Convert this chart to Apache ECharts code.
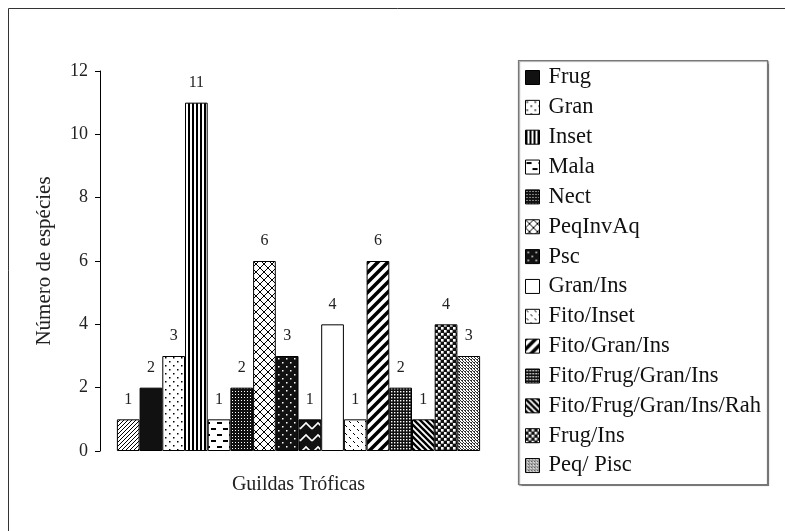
<!DOCTYPE html>
<html>
<head>
<meta charset="utf-8">
<script src="https://cdn.jsdelivr.net/npm/echarts@6/dist/echarts.min.js"></script>
<style>
  html, body { margin: 0; padding: 0; background: #fff; }
  #chart { width: 785px; height: 531px; }
</style>
</head>
<body>
<div id="chart"></div>
<script>
// Number of species per trophic guild
const categories = ['Guildas Tróficas'];
const guildNames = ['Série 1', 'Frug', 'Gran', 'Inset', 'Mala', 'Nect', 'PeqInvAq', 'Psc', 'Série 9',
  'Gran/Ins', 'Fito/Inset', 'Fito/Gran/Ins', 'Fito/Frug/Gran/Ins', 'Fito/Frug/Gran/Ins/Rah', 'Frug/Ins', 'Peq/ Pisc'];
const speciesCounts = [1, 2, 3, 11, 1, 2, 6, 3, 1, 4, 1, 6, 2, 1, 4, 3];
const legendNames = ['Frug', 'Gran', 'Inset', 'Mala', 'Nect', 'PeqInvAq', 'Psc', 'Gran/Ins', 'Fito/Inset',
  'Fito/Gran/Ins', 'Fito/Frug/Gran/Ins', 'Fito/Frug/Gran/Ins/Rah', 'Frug/Ins', 'Peq/ Pisc'];
const yTickMax = 12;
const yTickStep = 2;

// fill style for each bar, in series order
const fillKinds = ['hatchFine', 'solid', 'sparseDots', 'vStripes', 'dashes', 'denseDots', 'diamond', 'darkDots',
  'zigzag', 'blank', 'sparseSlash', 'thickDiag', 'denseDots2', 'backDiag', 'checker', 'mesh'];

const SERIF = 'Liberation Serif, "Times New Roman", serif';

function pattern(w, h, bg, draw) {
  const c = document.createElement('canvas');
  c.width = w; c.height = h;
  const g = c.getContext('2d');
  g.fillStyle = bg; g.fillRect(0, 0, w, h);
  g.fillStyle = '#000'; g.strokeStyle = '#000';
  draw(g, w, h);
  return { image: c, repeat: 'repeat' };
}
function line(g, pts, lw, col) {
  g.beginPath();
  g.lineWidth = lw;
  if (col) g.strokeStyle = col;
  g.moveTo(pts[0], pts[1]);
  for (let i = 2; i < pts.length; i += 2) g.lineTo(pts[i], pts[i + 1]);
  g.stroke();
}

function makeFill(kind) {
  switch (kind) {
    case 'solid': return '#111';
    case 'blank': return '#fff';
    case 'hatchFine': return pattern(4, 4, '#fff', g => {
      line(g, [-1, 5, 5, -1], 1); line(g, [-1, 1, 1, -1], 1); line(g, [3, 5, 5, 3], 1);
    });
    case 'sparseDots': return pattern(8, 8, '#fff', g => {
      g.fillRect(1, 1, 1.5, 1.5); g.fillRect(5, 5, 1.5, 1.5);
    });
    case 'vStripes': return pattern(4, 4, '#fff', g => { g.fillRect(0, 0, 2, 4); });
    case 'dashes': return pattern(12, 12, '#fff', g => {
      g.fillRect(1, 2, 5, 2); g.fillRect(7, 8, 5, 2);
    });
    case 'denseDots': return pattern(3, 3, '#111', g => {
      g.fillStyle = '#fff'; g.fillRect(1, 1, 1, 1);
    });
    case 'denseDots2': return pattern(3, 3, '#111', g => {
      g.fillStyle = '#fff'; g.fillRect(1, 1, 1.4, 1.4);
    });
    case 'diamond': return pattern(8, 8, '#fff', g => {
      line(g, [0, 0, 8, 8], 1); line(g, [0, 8, 8, 0], 1);
    });
    case 'darkDots': return pattern(8, 8, '#111', g => {
      g.fillStyle = '#fff'; g.fillRect(2, 2, 1.5, 1.5); g.fillRect(6, 6, 1.5, 1.5);
    });
    case 'zigzag': return pattern(12, 12, '#111', g => {
      line(g, [0, 9, 6, 3, 12, 9], 1.6, '#fff');
    });
    case 'sparseSlash': return pattern(8, 8, '#fff', g => {
      line(g, [1, 1, 3, 3], 1); line(g, [5, 5, 7, 7], 1);
    });
    case 'thickDiag': return pattern(10, 10, '#fff', g => {
      line(g, [-2, 12, 12, -2], 3.5); line(g, [-2, 2, 2, -2], 3.5); line(g, [8, 12, 12, 8], 3.5);
    });
    case 'backDiag': return pattern(6, 6, '#fff', g => {
      line(g, [-1, -1, 7, 7], 2.4); line(g, [-1, 5, 1, 7], 2.4); line(g, [5, -1, 7, 1], 2.4);
    });
    case 'checker': return pattern(6, 6, '#111', g => {
      g.fillStyle = '#fff'; g.fillRect(0, 0, 2.6, 2.6); g.fillRect(3, 3, 2.6, 2.6);
    });
    case 'mesh': return pattern(3, 3, '#fff', g => {
      g.fillStyle = '#333'; g.fillRect(0, 0, 1, 1); g.fillRect(1, 1, 1, 1); g.fillRect(2, 2, 1, 1);
      g.fillRect(0, 2, 1, 1);
    });
  }
  return '#fff';
}

const series = guildNames.map((name, i) => ({
  type: 'bar',
  name: name,
  data: [speciesCounts[i]],
  barWidth: 22.7,
  barGap: '0%',
  itemStyle: { color: makeFill(fillKinds[i]), borderColor: '#000', borderWidth: 1 },
  label: {
    show: true, position: 'top', distance: 12,
    fontFamily: SERIF, fontSize: 16, color: '#222'
  }
}));

const chart = echarts.init(document.getElementById('chart'), null, { renderer: 'canvas' });
chart.setOption({
  backgroundColor: '#fff',
  animation: false,
  grid: { left: 100, right: 288, top: 71, bottom: 80, containLabel: false },
  xAxis: {
    type: 'category',
    data: categories,
    axisLine: { show: false },
    axisTick: { show: false },
    axisLabel: { show: false },
    name: 'Guildas Tróficas',
    nameLocation: 'middle',
    nameGap: 24,
    nameTextStyle: { fontFamily: SERIF, fontSize: 20, color: '#222' }
  },
  yAxis: {
    type: 'value',
    min: 0, max: yTickMax, interval: yTickStep,
    axisLine: { show: true, lineStyle: { color: '#000', width: 1 } },
    axisTick: { show: true, inside: false, length: 5, lineStyle: { color: '#000' } },
    splitLine: { show: false },
    axisLabel: { fontFamily: SERIF, fontSize: 18, color: '#222', margin: 12 },
    name: 'Número de espécies',
    nameLocation: 'middle',
    nameRotate: 90,
    nameGap: 45,
    nameTextStyle: { fontFamily: SERIF, fontSize: 21, color: '#222' }
  },
  legend: {
    data: legendNames,
    orient: 'vertical',
    left: 525, top: 66,
    padding: 0,
    icon: 'rect',
    itemWidth: 14, itemHeight: 14, itemGap: 6.85,
    selectedMode: false,
    itemStyle: { borderColor: '#000', borderWidth: 1 },
    textStyle: { fontFamily: SERIF, fontSize: 22.5, color: '#111', lineHeight: 23, padding: [0, 0, 0, 4] }
  },
  graphic: [
    { type: 'rect', silent: true, z: -1,
      shape: { x: 8.5, y: 8.5, width: 900, height: 900 },
      style: { fill: 'none', stroke: '#333', lineWidth: 1 } },
    { type: 'rect', silent: true, z: -1,
      shape: { x: 518.5, y: 60.5, width: 249, height: 424 },
      style: { fill: '#fff', stroke: '#777', lineWidth: 1.2,
        shadowColor: 'rgba(0,0,0,0.35)', shadowOffsetX: 1, shadowOffsetY: 1, shadowBlur: 1 } }
  ],
  series: series
});
</script>
</body>
</html>
